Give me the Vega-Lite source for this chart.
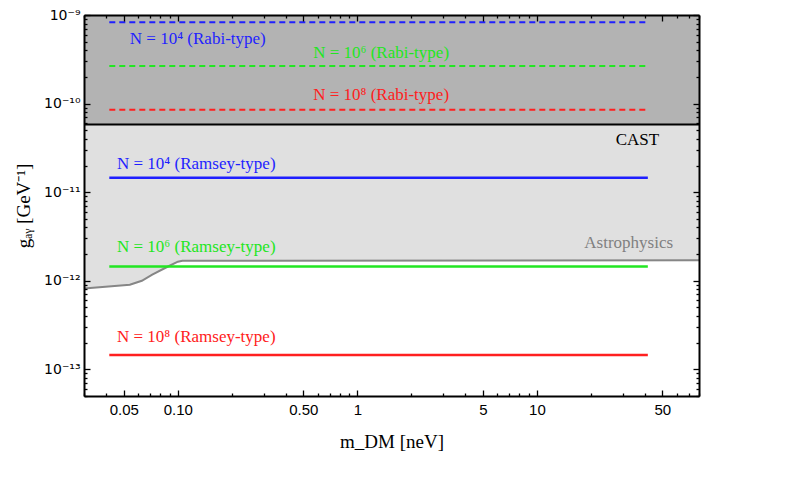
{
  "$schema": "https://vega.github.io/schema/vega-lite/v6.json",
  "width": 615,
  "height": 381,
  "autosize": {"type": "none"},
  "padding": {"left": 84, "top": 15, "right": 91, "bottom": 87},
  "background": "white",
  "config": {
    "view": {"stroke": null},
    "axis": {
      "domainColor": "black",
      "domainWidth": 2,
      "tickColor": "black",
      "tickWidth": 1.3,
      "grid": false,
      "labelFont": "Liberation Sans",
      "labelFontSize": 15,
      "labelColor": "black",
      "labelOverlap": false,
      "labelBound": false,
      "labelFlush": false,
      "titleFont": "Liberation Serif",
      "titleFontSize": 19,
      "titleFontWeight": "normal",
      "titleColor": "black"
    },
    "text": {"font": "Liberation Serif", "fontSize": 17, "baseline": "middle"}
  },
  "datasets": {
    "astrophysics": [
      {"m": 0.03, "g": 8.2e-13, "g_top": 1e-9},
      {"m": 0.054, "g": 9.0e-13, "g_top": 1e-9},
      {"m": 0.063, "g": 1.0e-12, "g_top": 1e-9},
      {"m": 0.072, "g": 1.17e-12, "g_top": 1e-9},
      {"m": 0.087, "g": 1.43e-12, "g_top": 1e-9},
      {"m": 0.1, "g": 1.64e-12, "g_top": 1e-9},
      {"m": 0.106, "g": 1.68e-12, "g_top": 1e-9},
      {"m": 80, "g": 1.7e-12, "g_top": 1e-9}
    ],
    "cast": [
      {"m": 0.03, "m2": 80, "g": 5.8e-11, "g2": 1e-9}
    ],
    "sensitivity": [
      {"scheme": "Rabi-type", "N": "10⁴", "m": 0.0415, "g": 8.3e-10},
      {"scheme": "Rabi-type", "N": "10⁴", "m": 41.5, "g": 8.3e-10},
      {"scheme": "Rabi-type", "N": "10⁶", "m": 0.0415, "g": 2.65e-10},
      {"scheme": "Rabi-type", "N": "10⁶", "m": 41.5, "g": 2.65e-10},
      {"scheme": "Rabi-type", "N": "10⁸", "m": 0.0415, "g": 8.5e-11},
      {"scheme": "Rabi-type", "N": "10⁸", "m": 41.5, "g": 8.5e-11},
      {"scheme": "Ramsey-type", "N": "10⁴", "m": 0.0415, "g": 1.45e-11},
      {"scheme": "Ramsey-type", "N": "10⁴", "m": 41.5, "g": 1.45e-11},
      {"scheme": "Ramsey-type", "N": "10⁶", "m": 0.0415, "g": 1.45e-12},
      {"scheme": "Ramsey-type", "N": "10⁶", "m": 41.5, "g": 1.45e-12},
      {"scheme": "Ramsey-type", "N": "10⁸", "m": 0.0415, "g": 1.45e-13},
      {"scheme": "Ramsey-type", "N": "10⁸", "m": 41.5, "g": 1.45e-13}
    ],
    "curve_labels": [
      {"label": "N = 10⁴ (Rabi-type)", "N": "10⁴", "m": 0.054, "g": 5.36e-10},
      {"label": "N = 10⁶ (Rabi-type)", "N": "10⁶", "m": 0.567, "g": 3.69e-10},
      {"label": "N = 10⁸ (Rabi-type)", "N": "10⁸", "m": 0.567, "g": 1.25e-10},
      {"label": "N = 10⁴ (Ramsey-type)", "N": "10⁴", "m": 0.0458, "g": 2.09e-11},
      {"label": "N = 10⁶ (Ramsey-type)", "N": "10⁶", "m": 0.0458, "g": 2.4e-12},
      {"label": "N = 10⁸ (Ramsey-type)", "N": "10⁸", "m": 0.0458, "g": 2.3e-13}
    ],
    "region_labels": [
      {"label": "CAST", "m": 48, "g": 3.92e-11},
      {"label": "Astrophysics", "m": 57.4, "g": 2.67e-12}
    ]
  },
  "layer": [
    {
      "data": {"name": "astrophysics"},
      "mark": {"type": "area", "color": "#e0e0e0", "opacity": 1, "clip": true},
      "encoding": {
        "x": {
          "field": "m", "type": "quantitative",
          "scale": {"type": "log", "domain": [0.03, 80], "nice": false},
          "axis": {
            "orient": "bottom",
            "zindex": 1,
            "title": "m_DM [neV]",
            "values": [0.03, 0.04, 0.05, 0.06, 0.07, 0.08, 0.09, 0.1, 0.2, 0.3, 0.4, 0.5, 0.6, 0.7, 0.8, 0.9, 1, 2, 3, 4, 5, 6, 7, 8, 9, 10, 20, 30, 40, 50, 60, 70, 80],
            "labelExpr": "datum.value == 0.05 ? '0.05' : datum.value == 0.1 ? '0.10' : datum.value == 0.5 ? '0.50' : datum.value == 1 ? '1' : datum.value == 5 ? '5' : datum.value == 10 ? '10' : datum.value == 50 ? '50' : ''",
            "tickSize": {"condition": {"test": "indexof([0.05, 0.1, 0.5, 1, 5, 10, 50], datum.value) >= 0", "value": -6}, "value": -3},
            "labelPadding": 12,
            "titlePadding": 12
          }
        },
        "y": {
          "field": "g", "type": "quantitative",
          "scale": {"type": "log", "domain": [5e-14, 1e-9], "nice": false},
          "axis": {
            "orient": "left",
            "zindex": 1,
            "title": "gₐᵧ [GeV⁻¹]",
            "values": [5e-14, 6e-14, 7e-14, 8e-14, 9e-14, 1e-13, 2e-13, 3e-13, 4e-13, 5e-13, 6e-13, 7e-13, 8e-13, 9e-13, 1e-12, 2e-12, 3e-12, 4e-12, 5e-12, 6e-12, 7e-12, 8e-12, 9e-12, 1e-11, 2e-11, 3e-11, 4e-11, 5e-11, 6e-11, 7e-11, 8e-11, 9e-11, 1e-10, 2e-10, 3e-10, 4e-10, 5e-10, 6e-10, 7e-10, 8e-10, 9e-10, 1e-9],
            "labelExpr": "datum.value == 1e-9 ? '10⁻⁹' : datum.value == 1e-10 ? '10⁻¹⁰' : datum.value == 1e-11 ? '10⁻¹¹' : datum.value == 1e-12 ? '10⁻¹²' : datum.value == 1e-13 ? '10⁻¹³' : ''",
            "labelFont": "DejaVu Sans",
            "labelFontSize": 14,
            "tickSize": {"condition": {"test": "indexof([1e-13, 1e-12, 1e-11, 1e-10, 1e-9], datum.value) >= 0", "value": -6}, "value": -3},
            "labelPadding": 10,
            "titlePadding": 10
          }
        },
        "y2": {"field": "g_top"}
      }
    },
    {
      "data": {"name": "cast"},
      "mark": {"type": "rect", "color": "#b3b3b3", "opacity": 1, "clip": true},
      "encoding": {
        "x": {
          "field": "m", "type": "quantitative",
          "scale": {"type": "log", "domain": [0.03, 80], "nice": false},
          "axis": {
            "orient": "top",
            "zindex": 1,
            "title": null,
            "labels": false,
            "values": [0.03, 0.04, 0.05, 0.06, 0.07, 0.08, 0.09, 0.1, 0.2, 0.3, 0.4, 0.5, 0.6, 0.7, 0.8, 0.9, 1, 2, 3, 4, 5, 6, 7, 8, 9, 10, 20, 30, 40, 50, 60, 70, 80],
            "tickSize": {"condition": {"test": "indexof([0.05, 0.1, 0.5, 1, 5, 10, 50], datum.value) >= 0", "value": -6}, "value": -3}
          }
        },
        "x2": {"field": "m2"},
        "y": {
          "field": "g", "type": "quantitative",
          "scale": {"type": "log", "domain": [5e-14, 1e-9], "nice": false},
          "axis": {
            "orient": "right",
            "zindex": 1,
            "title": null,
            "labels": false,
            "values": [5e-14, 6e-14, 7e-14, 8e-14, 9e-14, 1e-13, 2e-13, 3e-13, 4e-13, 5e-13, 6e-13, 7e-13, 8e-13, 9e-13, 1e-12, 2e-12, 3e-12, 4e-12, 5e-12, 6e-12, 7e-12, 8e-12, 9e-12, 1e-11, 2e-11, 3e-11, 4e-11, 5e-11, 6e-11, 7e-11, 8e-11, 9e-11, 1e-10, 2e-10, 3e-10, 4e-10, 5e-10, 6e-10, 7e-10, 8e-10, 9e-10, 1e-9],
            "tickSize": {"condition": {"test": "indexof([1e-13, 1e-12, 1e-11, 1e-10, 1e-9], datum.value) >= 0", "value": -6}, "value": -3}
          }
        },
        "y2": {"field": "g2"}
      }
    },
    {
      "data": {"name": "cast"},
      "mark": {"type": "rule", "color": "black", "strokeWidth": 2, "clip": true},
      "encoding": {
        "x": {"field": "m", "type": "quantitative", "scale": {"type": "log", "domain": [0.03, 80], "nice": false}, "axis": null},
        "x2": {"field": "m2"},
        "y": {"field": "g", "type": "quantitative", "scale": {"type": "log", "domain": [5e-14, 1e-9], "nice": false}, "axis": null}
      }
    },
    {
      "data": {"name": "astrophysics"},
      "mark": {"type": "line", "color": "#868686", "strokeWidth": 2, "clip": true},
      "encoding": {
        "x": {"field": "m", "type": "quantitative", "scale": {"type": "log", "domain": [0.03, 80], "nice": false}, "axis": null},
        "y": {"field": "g", "type": "quantitative", "scale": {"type": "log", "domain": [5e-14, 1e-9], "nice": false}, "axis": null}
      }
    },
    {
      "data": {"name": "sensitivity"},
      "transform": [{"filter": "datum.scheme == 'Rabi-type'"}],
      "mark": {"type": "line", "strokeWidth": 2, "strokeDash": [6, 4], "clip": true},
      "encoding": {
        "x": {"field": "m", "type": "quantitative", "scale": {"type": "log", "domain": [0.03, 80], "nice": false}, "axis": null},
        "y": {"field": "g", "type": "quantitative", "scale": {"type": "log", "domain": [5e-14, 1e-9], "nice": false}, "axis": null},
        "color": {"field": "N", "type": "nominal", "scale": {"domain": ["10⁴", "10⁶", "10⁸"], "range": ["#1f1fff", "#22e622", "#ff2020"]}, "legend": null}
      }
    },
    {
      "data": {"name": "sensitivity"},
      "transform": [{"filter": "datum.scheme == 'Ramsey-type'"}],
      "mark": {"type": "line", "strokeWidth": 2.5, "clip": true},
      "encoding": {
        "x": {"field": "m", "type": "quantitative", "scale": {"type": "log", "domain": [0.03, 80], "nice": false}, "axis": null},
        "y": {"field": "g", "type": "quantitative", "scale": {"type": "log", "domain": [5e-14, 1e-9], "nice": false}, "axis": null},
        "color": {"field": "N", "type": "nominal", "scale": {"domain": ["10⁴", "10⁶", "10⁸"], "range": ["#1f1fff", "#22e622", "#ff2020"]}, "legend": null}
      }
    },
    {
      "data": {"name": "curve_labels"},
      "mark": {"type": "text", "align": "left"},
      "encoding": {
        "x": {"field": "m", "type": "quantitative", "scale": {"type": "log", "domain": [0.03, 80], "nice": false}, "axis": null},
        "y": {"field": "g", "type": "quantitative", "scale": {"type": "log", "domain": [5e-14, 1e-9], "nice": false}, "axis": null},
        "text": {"field": "label"},
        "color": {"field": "N", "type": "nominal", "scale": {"domain": ["10⁴", "10⁶", "10⁸"], "range": ["#1f1fff", "#22e622", "#ff2020"]}, "legend": null}
      }
    },
    {
      "data": {"name": "region_labels"},
      "transform": [{"filter": "datum.label == 'CAST'"}],
      "mark": {"type": "text", "align": "right", "color": "black"},
      "encoding": {
        "x": {"field": "m", "type": "quantitative", "scale": {"type": "log", "domain": [0.03, 80], "nice": false}, "axis": null},
        "y": {"field": "g", "type": "quantitative", "scale": {"type": "log", "domain": [5e-14, 1e-9], "nice": false}, "axis": null},
        "text": {"field": "label"}
      }
    },
    {
      "data": {"name": "region_labels"},
      "transform": [{"filter": "datum.label == 'Astrophysics'"}],
      "mark": {"type": "text", "align": "right", "color": "#808080"},
      "encoding": {
        "x": {"field": "m", "type": "quantitative", "scale": {"type": "log", "domain": [0.03, 80], "nice": false}, "axis": null},
        "y": {"field": "g", "type": "quantitative", "scale": {"type": "log", "domain": [5e-14, 1e-9], "nice": false}, "axis": null},
        "text": {"field": "label"}
      }
    }
  ],
  "resolve": {"axis": {"x": "independent", "y": "independent"}}
}
